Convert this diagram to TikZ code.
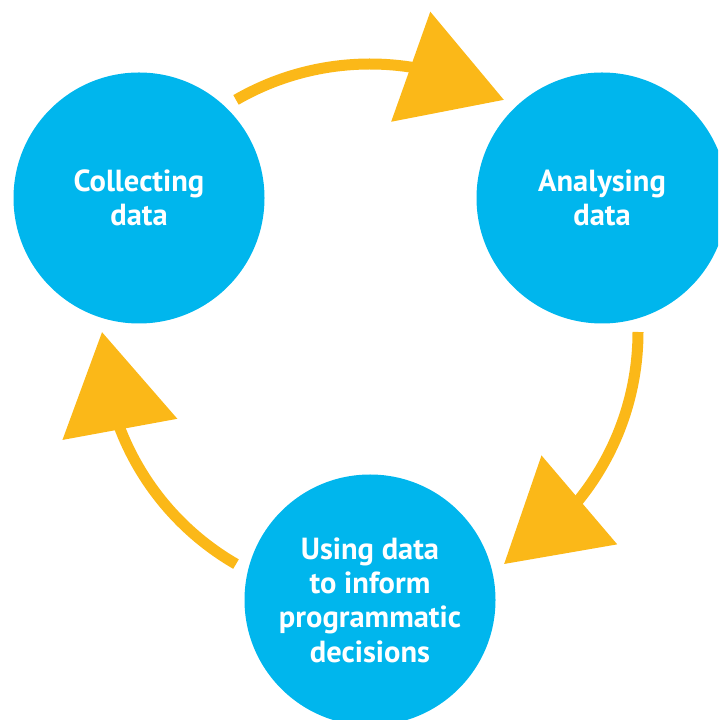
\documentclass[tikz,border=0pt]{standalone}
\usepackage{fontspec}
\setsansfont{PT Sans}
\usetikzlibrary{arrows.meta, bending}
\definecolor{cycleblue}{RGB}{0,182,237}
\definecolor{cycleorange}{RGB}{251,184,24}
\tikzset{
  stage/.style={circle, fill=cycleblue, minimum size=251pt, inner sep=0pt,
    text=white, align=center, font=\sffamily\bfseries\fontsize{30.5}{34.4}\selectfont},
  cyclearrow/.style={cycleorange, line width=11pt,
    -{Triangle[length=99pt, width=114pt, flex]}}
}

\begin{document}
\begin{tikzpicture}[x=1pt, y=1pt]
\useasboundingbox (0,0) rectangle (718,720);
\clip (0,0) rectangle (718,720);
\node[stage] at (139,522) (collect) {Collecting\\data};
\node[stage] at (602,522) (analyse) {Analysing\\data};
\node[stage] at (370,120) (use) {Using data\\to inform\\programmatic\\decisions};
\coordinate (hub) at (370,388);
\coordinate (a1) at ([shift={(120:268)}]hub);
\coordinate (a2) at ([shift={(0:268)}]hub);
\coordinate (a3) at ([shift={(240:268)}]hub);
\draw[cyclearrow] (a1) arc[start angle=120, end angle=60, radius=268pt];
\draw[cyclearrow] (a2) arc[start angle=0, end angle=-60, radius=268pt];
\draw[cyclearrow] (a3) arc[start angle=240, end angle=180, radius=268pt];
\end{tikzpicture}
\end{document}
